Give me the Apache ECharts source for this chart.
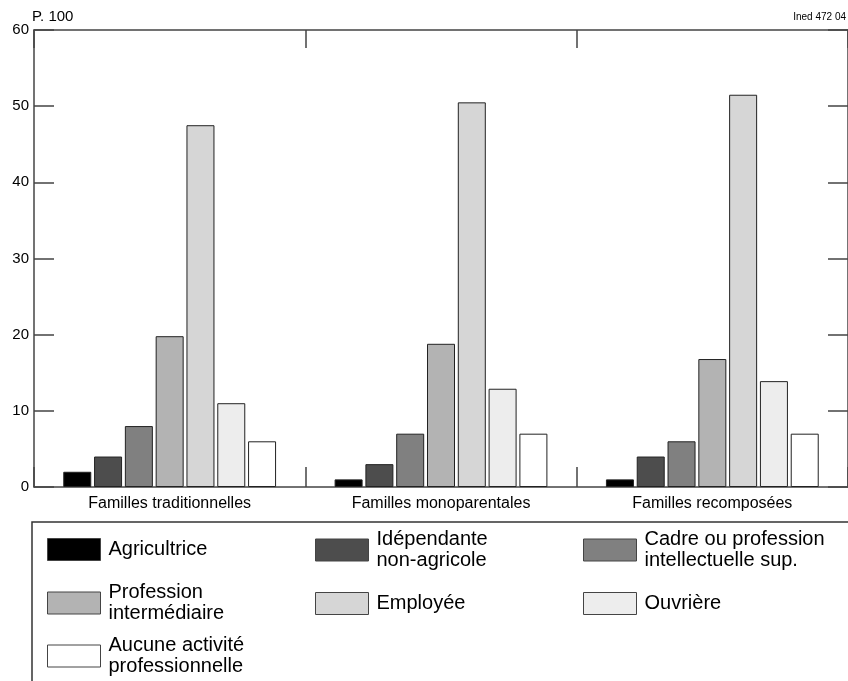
<!DOCTYPE html>
<html>
<head>
<meta charset="utf-8">
<script src="https://cdn.jsdelivr.net/npm/echarts@6/dist/echarts.min.js"></script>
<style>html,body{margin:0;padding:0;background:#fff}#c{width:848px;height:681px}</style>
</head>
<body>
<div id="c"></div>
<script>
const categories = ['Familles traditionnelles', 'Familles monoparentales', 'Familles recomposées'];
const seriesNames = ['Agricultrice', 'Idépendante non-agricole', 'Cadre ou profession intellectuelle sup.', 'Profession intermédiaire', 'Employée', 'Ouvrière', 'Aucune activité professionnelle'];
const legendLabels = ['Agricultrice', 'Idépendante\nnon-agricole', 'Cadre ou profession\nintellectuelle sup.', 'Profession\nintermédiaire', 'Employée', 'Ouvrière', 'Aucune activité\nprofessionnelle'];
const agricultrice = [2, 1, 1];
const independante = [4, 3, 4];
const cadre = [8, 7, 6];
const intermediaire = [19.8, 18.8, 16.8];
const employee = [47.5, 50.5, 51.5];
const ouvriere = [11, 12.9, 13.9];
const aucune = [6, 7, 7];
const yTicks = [0, 10, 20, 30, 40, 50, 60];

const values = [agricultrice, independante, cadre, intermediaire, employee, ouvriere, aucune];
const colors = ['#000000', '#4d4d4d', '#808080', '#b3b3b3', '#d6d6d6', '#ededed', '#ffffff'];
const FONT = '"Liberation Sans", Arial, Helvetica, sans-serif';

const chart = echarts.init(document.getElementById('c'), null, {renderer: 'canvas'});

const legendPos = [[47, 549], [315, 550], [583, 550], [47, 603], [315, 603], [583, 603], [47, 656]];
const legends = seriesNames.map((n, i) => {
  const lines = legendLabels[i].split('\n').length;
  const h = Math.max(22, lines * 21);
  return {
    data: [n],
    left: legendPos[i][0],
    top: legendPos[i][1] - h / 2,
    orient: 'horizontal',
    padding: 0,
    itemWidth: 53,
    itemHeight: 22,
    selectedMode: false,
    icon: 'rect',
    itemStyle: {borderColor: '#444', borderWidth: 1},
    formatter: () => legendLabels[i],
    textStyle: {fontSize: 20, lineHeight: 21, color: '#000', fontFamily: FONT, padding: [0, 0, 0, 3]}
  };
});

const axisLineStyle = {color: '#444', width: 1.5};

chart.setOption({
  animation: false,
  backgroundColor: '#fff',
  textStyle: {fontFamily: FONT},
  title: {text: 'P. 100', left: 32, top: 9, padding: 0, textStyle: {fontSize: 15, fontWeight: 'normal', color: '#000', fontFamily: FONT}},
  grid: {left: 34, right: 0, top: 30, bottom: 194, containLabel: false},
  legend: legends,
  graphic: [
    {type: 'rect', shape: {x: 32, y: 522, width: 900, height: 300}, style: {fill: 'none', stroke: '#333', lineWidth: 1.5}, z: 0},
    {type: 'text', right: 2, top: 12, style: {text: 'Ined 472 04', fontSize: 10, fill: '#000', fontFamily: FONT}}
  ],
  xAxis: [
    {type: 'category', data: categories, position: 'bottom', boundaryGap: true,
      axisLine: {show: true, onZero: false, lineStyle: axisLineStyle},
      axisTick: {show: true, interval: 0, alignWithLabel: false, inside: true, length: 20, lineStyle: axisLineStyle},
      axisLabel: {fontSize: 16, color: '#000', margin: 9, fontFamily: FONT},
      splitLine: {show: false}},
    {type: 'category', data: categories, position: 'top', boundaryGap: true,
      axisLine: {show: true, onZero: false, lineStyle: axisLineStyle},
      axisTick: {show: true, interval: 0, alignWithLabel: false, inside: true, length: 18, lineStyle: axisLineStyle},
      axisLabel: {show: false}, splitLine: {show: false}}
  ],
  yAxis: [
    {type: 'value', min: yTicks[0], max: yTicks[yTicks.length - 1], interval: 10, position: 'left',
      axisLine: {show: true, onZero: false, lineStyle: axisLineStyle},
      axisTick: {show: true, inside: true, length: 20, lineStyle: axisLineStyle},
      axisLabel: {fontSize: 15, color: '#000', margin: 5, fontFamily: FONT},
      splitLine: {show: false}},
    {type: 'value', min: yTicks[0], max: yTicks[yTicks.length - 1], interval: 10, position: 'right',
      axisLine: {show: true, onZero: false, lineStyle: axisLineStyle},
      axisTick: {show: true, inside: true, length: 20, lineStyle: axisLineStyle},
      axisLabel: {show: false}, splitLine: {show: false}}
  ],
  series: seriesNames.map((n, i) => ({
    name: n,
    type: 'bar',
    xAxisIndex: 0,
    yAxisIndex: 0,
    data: values[i],
    barWidth: 28,
    barGap: '10%',
    itemStyle: {color: colors[i], borderColor: '#222', borderWidth: 1}
  }))
});
</script>
</body>
</html>
